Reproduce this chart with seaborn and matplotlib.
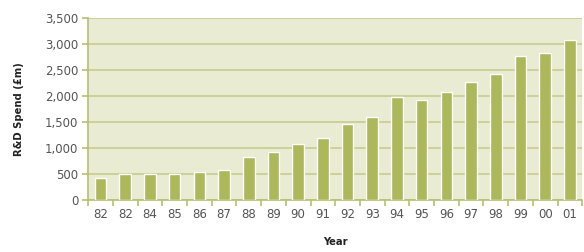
import matplotlib
matplotlib.use("Agg")
import matplotlib.pyplot as plt
import seaborn as sns
import pandas as pd
import numpy as np
from matplotlib.ticker import FuncFormatter, FixedLocator

years = ["82", "82", "84", "85", "86", "87", "88", "89", "90", "91",
         "92", "93", "94", "95", "96", "97", "98", "99", "00", "01"]
spend = [430, 500, 500, 500, 540, 570, 825, 915, 1075, 1195,
         1460, 1595, 1975, 1930, 2070, 2270, 2415, 2760, 2820, 3070]

df = pd.DataFrame({"pos": range(len(years)), "year": years, "spend": spend})

sns.set_theme(style="white")
plt.rcParams['font.family'] = ['DejaVu Sans']

bar_color = "#adb85a"
bg_color = "#e9ebd2"
grid_color = "#c8cc8e"
axis_color = "#b8c070"

fig = plt.figure(figsize=(5.84, 2.52), dpi=100)
ax = fig.add_axes([0.151, 0.206, 0.846, 0.723])
ax.set_facecolor(bg_color)

sns.barplot(data=df, x="pos", y="spend", color=bar_color, width=0.47,
            saturation=1, ax=ax, zorder=3)

ax.set_ylim(0, 3500)
ax.set_yticks(range(0, 3501, 500))
ax.yaxis.set_major_formatter(FuncFormatter(lambda v, p: f"{int(v):,}"))
ax.set_xlim(-0.5, len(years) - 0.5)
ax.set_xticks(range(len(years)))
ax.set_xticklabels(years)
ax.xaxis.set_minor_locator(FixedLocator(np.arange(-0.5, len(years), 1.0)))

ax.grid(axis="y", color=grid_color, linewidth=1.2, zorder=0)
ax.set_axisbelow(True)

for s in ["top", "right"]:
    ax.spines[s].set_visible(False)
for s in ["left", "bottom"]:
    ax.spines[s].set_color(axis_color)
    ax.spines[s].set_linewidth(1.2)

ax.tick_params(axis="x", which="major", length=0, pad=6, labelsize=8.5, labelcolor="#555555")
ax.tick_params(axis="x", which="minor", length=4, width=1.2, color=axis_color, direction="out", bottom=True)
ax.tick_params(axis="y", length=4, width=1.2, color=axis_color, labelsize=8.5, labelcolor="#555555", left=True, pad=3)

ax.set_xlabel("Year", fontsize=8, fontweight="bold", color="#222222",
              fontstretch="condensed")
ax.xaxis.set_label_coords(0.5, -0.205)
ax.set_ylabel("R&D Spend (£m)", fontsize=8, fontweight="bold", color="#222222",
              fontstretch="condensed")
ax.yaxis.set_label_coords(-0.13, 0.5)

fig.savefig("out.png", dpi=100, facecolor="white")
